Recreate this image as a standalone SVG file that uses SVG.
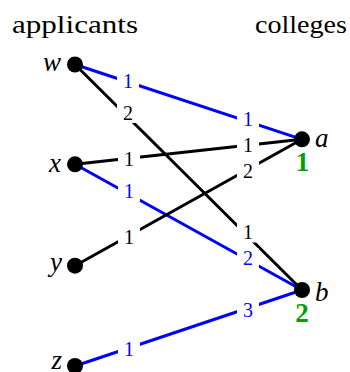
<svg xmlns="http://www.w3.org/2000/svg" width="350" height="372" viewBox="0 0 350 372" font-family="Liberation Serif, serif">
<style>
.head{font-size:26px;fill:#000;text-anchor:middle}
.var{font-style:italic;font-size:27px;fill:#000}
.e{fill:none;stroke-width:3;stroke-linecap:round}
.blk{stroke:#000}
.blu{stroke:#0000ff}
.lb{fill:#fff;stroke:none}
.lt{font-size:20px;text-anchor:middle}
.k{fill:#000}
.b{fill:#0000ff}
.cap{font-weight:bold;font-size:27px;fill:#00a000;text-anchor:middle}
.dot{fill:#000}
</style>
<g id="headings" font-family="Liberation Serif, serif">
<text class="head" x="75" y="33" textLength="126" lengthAdjust="spacingAndGlyphs">applicants</text>
<text class="head" x="301" y="33" textLength="92" lengthAdjust="spacingAndGlyphs">colleges</text>
</g>
<g id="connectors">
<line id="e-w-a" class="e blu" x1="75" y1="64.5" x2="302" y2="139.3"/>
<line id="e-w-b" class="e blk" x1="75" y1="64.5" x2="302" y2="290"/>
<line id="e-x-a" class="e blk" x1="75" y1="164.3" x2="302" y2="139.3"/>
<line id="e-x-b" class="e blu" x1="75" y1="164.3" x2="302" y2="290"/>
<line id="e-y-a" class="e blk" x1="75" y1="265.7" x2="302" y2="139.3"/>
<line id="e-z-b" class="e blu" x1="75" y1="366" x2="302" y2="290"/>
</g>
<g id="edge-labels" font-family="Liberation Serif, serif">
<rect class="lb" x="117" y="71" width="22" height="20"/><text class="lt b" x="128" y="87.5">1</text>
<rect class="lb" x="117" y="103" width="22" height="20"/><text class="lt k" x="128" y="119.5">2</text>
<rect class="lb" x="118" y="149.5" width="22" height="20"/><text class="lt k" x="129" y="166">1</text>
<rect class="lb" x="118" y="181.5" width="22" height="20"/><text class="lt b" x="129" y="198">1</text>
<rect class="lb" x="118" y="227.5" width="22" height="20"/><text class="lt k" x="129" y="244">1</text>
<rect class="lb" x="118" y="339.5" width="22" height="20"/><text class="lt b" x="129" y="356">1</text>
<rect class="lb" x="237" y="109.5" width="22" height="20"/><text class="lt b" x="248" y="126">1</text>
<rect class="lb" x="237" y="135" width="22" height="20"/><text class="lt k" x="248" y="151.5">1</text>
<rect class="lb" x="237" y="161" width="22" height="20"/><text class="lt k" x="248" y="177.5">2</text>
<rect class="lb" x="237" y="222.5" width="22" height="20"/><text class="lt k" x="248" y="239">1</text>
<rect class="lb" x="237" y="248.5" width="22" height="20"/><text class="lt b" x="248" y="265">2</text>
<rect class="lb" x="237" y="300" width="22" height="20"/><text class="lt b" x="248" y="316.5">3</text>
</g>
<g id="node-w" font-family="Liberation Serif, serif"><circle class="dot" cx="75" cy="64.5" r="8"/><text class="var" x="61" y="70.7" text-anchor="end">w</text></g>
<g id="node-x" font-family="Liberation Serif, serif"><circle class="dot" cx="75" cy="164.3" r="8"/><text class="var" x="61" y="171.5" text-anchor="end">x</text></g>
<g id="node-y" font-family="Liberation Serif, serif"><circle class="dot" cx="75" cy="265.7" r="8"/><text class="var" x="62" y="271" text-anchor="end">y</text></g>
<g id="node-z" font-family="Liberation Serif, serif"><circle class="dot" cx="75" cy="366" r="8"/><text class="var" x="62" y="369" text-anchor="end">z</text></g>
<g id="node-a" font-family="Liberation Serif, serif"><circle class="dot" cx="302" cy="139.3" r="8"/><text class="var" x="315" y="147">a</text><text class="cap" x="302.5" y="171">1</text></g>
<g id="node-b" font-family="Liberation Serif, serif"><circle class="dot" cx="302" cy="290" r="8"/><text class="var" x="315" y="301">b</text><text class="cap" x="302" y="322">2</text></g>
</svg>
